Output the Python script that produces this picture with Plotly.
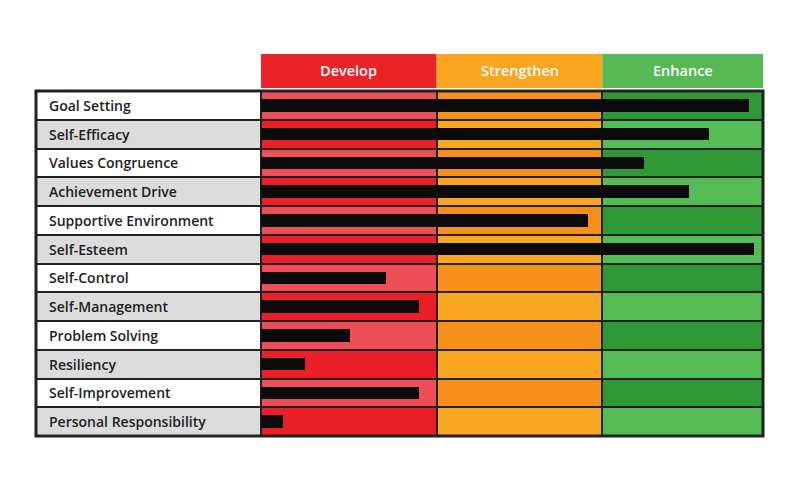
import plotly.graph_objects as go

# ---- data ----
skills = ["Goal Setting", "Self-Efficacy", "Values Congruence", "Achievement Drive",
          "Supportive Environment", "Self-Esteem", "Self-Control", "Self-Management",
          "Problem Solving", "Resiliency", "Self-Improvement", "Personal Responsibility"]
scores = [97.2, 89.2, 76.3, 85.3, 65.1, 98.2, 24.9, 31.5, 17.7, 8.8, 31.5, 4.4]
bands = ["Develop", "Strengthen", "Enhance"]
band_edges = [0, 35, 68, 100]
label_col_start = -44.8

# ---- styles ----
header_colors = ["#EC2229", "#F9A51F", "#55B955"]
cell_colors = [("#EE4F57", "#EB1F27"), ("#F7901B", "#F9A620"), ("#2E9936", "#55BB55")]
label_colors = ("#FFFFFF", "#DCDCDC")
grid = "#222222"
font_family = "Open Sans"

n = len(skills)
fig = go.Figure()

# label column cells
fig.add_trace(go.Bar(
    y=skills, x=[0 - label_col_start] * n, base=[label_col_start] * n,
    orientation="h", width=1,
    marker=dict(color=[label_colors[i % 2] for i in range(n)], line=dict(color=grid, width=2)),
    hoverinfo="skip", showlegend=False))

# band cells
for b in range(len(bands)):
    x0, x1 = band_edges[b], band_edges[b + 1]
    fig.add_trace(go.Bar(
        y=skills, x=[x1 - x0] * n, base=[x0] * n,
        orientation="h", width=1,
        marker=dict(color=[cell_colors[b][i % 2] for i in range(n)], line=dict(color=grid, width=2)),
        hoverinfo="skip", showlegend=False))

# score bars
fig.add_trace(go.Bar(
    y=skills, x=scores, base=[0] * n, orientation="h", width=0.44,
    marker=dict(color="#0B0B0B", line=dict(width=0)),
    showlegend=False, name="Score"))

PLOT_H = 500 - 83 - 72
shapes = []
annotations = []
for b, name in enumerate(bands):
    shapes.append(dict(type="rect", xref="x", yref="paper",
                       x0=band_edges[b], x1=band_edges[b + 1],
                       y0=1 + 3 / PLOT_H, y1=1 + 37 / PLOT_H,
                       fillcolor=header_colors[b], line=dict(width=0), layer="above"))
    annotations.append(dict(xref="x", yref="paper",
                            x=(band_edges[b] + band_edges[b + 1]) / 2, y=1 + 20 / PLOT_H,
                            text=name, showarrow=False, xanchor="center", yanchor="middle",
                            font=dict(family=font_family, size=14.5, color="white", weight=600)))

for s in skills:
    annotations.append(dict(xref="x", yref="y", x=label_col_start, y=s, text=s,
                            showarrow=False, xanchor="left", yanchor="middle", xshift=11,
                            font=dict(family=font_family, size=14, color="#222222", weight=600)))

shapes.append(dict(type="rect", xref="paper", yref="paper", x0=0, x1=1, y0=0, y1=1,
                   line=dict(color=grid, width=3), layer="above"))

fig.update_layout(
    width=800, height=500, autosize=False,
    margin=dict(l=28, r=45, t=83, b=72),
    paper_bgcolor="white", plot_bgcolor="white",
    barmode="overlay", bargap=0,
    xaxis=dict(range=[label_col_start, 100], visible=False, fixedrange=True),
    yaxis=dict(range=[n - 0.5, -0.5], visible=False, fixedrange=True),
    shapes=shapes, annotations=annotations,
)

fig.write_html("out.html")
